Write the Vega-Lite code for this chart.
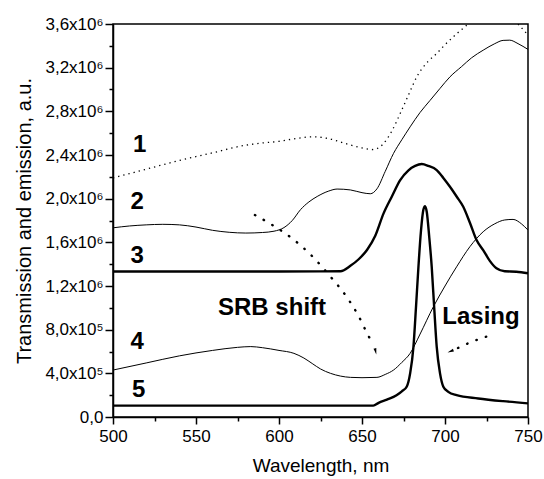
{
  "$schema": "https://vega.github.io/schema/vega-lite/v6.json",
  "width": 415,
  "height": 393,
  "autosize": "none",
  "padding": {"left": 113, "top": 24, "right": 16, "bottom": 62},
  "background": "white",
  "config": {
    "view": {"stroke": "black", "strokeWidth": 1.5},
    "axis": {
      "grid": false,
      "domainColor": "black",
      "domainWidth": 1.5,
      "tickColor": "black",
      "tickWidth": 1.5,
      "labelColor": "black",
      "titleColor": "black",
      "labelFont": "Liberation Sans",
      "titleFont": "Liberation Sans",
      "titleFontWeight": "normal",
      "labelFlush": false,
      "labelOverlap": false
    }
  },
  "datasets": {
    "curves": [
      {"c": "1", "x": 500, "y": 2190000}, {"c": "1", "x": 520, "y": 2270000}, {"c": "1", "x": 540, "y": 2350000},
      {"c": "1", "x": 560, "y": 2420000}, {"c": "1", "x": 580, "y": 2490000}, {"c": "1", "x": 590, "y": 2510000},
      {"c": "1", "x": 600, "y": 2525000}, {"c": "1", "x": 610, "y": 2550000}, {"c": "1", "x": 620, "y": 2567000},
      {"c": "1", "x": 630, "y": 2550000}, {"c": "1", "x": 640, "y": 2505000}, {"c": "1", "x": 650, "y": 2465000},
      {"c": "1", "x": 657, "y": 2450000}, {"c": "1", "x": 662, "y": 2490000}, {"c": "1", "x": 668, "y": 2620000},
      {"c": "1", "x": 673, "y": 2780000}, {"c": "1", "x": 678, "y": 2950000}, {"c": "1", "x": 683, "y": 3116000},
      {"c": "1", "x": 690, "y": 3260000}, {"c": "1", "x": 695, "y": 3330000}, {"c": "1", "x": 700, "y": 3410000},
      {"c": "1", "x": 707, "y": 3510000}, {"c": "1", "x": 714, "y": 3600000}, {"c": "1", "x": 722, "y": 3700000},
      {"c": "1", "x": 730, "y": 3740000}, {"c": "1", "x": 738, "y": 3700000}, {"c": "1", "x": 744, "y": 3600000},
      {"c": "1", "x": 750, "y": 3500000},

      {"c": "2", "x": 500, "y": 1733000}, {"c": "2", "x": 510, "y": 1750000}, {"c": "2", "x": 520, "y": 1760000},
      {"c": "2", "x": 530, "y": 1765000}, {"c": "2", "x": 540, "y": 1760000}, {"c": "2", "x": 550, "y": 1740000},
      {"c": "2", "x": 560, "y": 1710000}, {"c": "2", "x": 570, "y": 1692000}, {"c": "2", "x": 580, "y": 1685000},
      {"c": "2", "x": 590, "y": 1690000}, {"c": "2", "x": 597, "y": 1702000}, {"c": "2", "x": 603, "y": 1735000},
      {"c": "2", "x": 608, "y": 1800000}, {"c": "2", "x": 613, "y": 1900000}, {"c": "2", "x": 618, "y": 1970000},
      {"c": "2", "x": 623, "y": 2020000}, {"c": "2", "x": 630, "y": 2070000}, {"c": "2", "x": 635, "y": 2088000},
      {"c": "2", "x": 643, "y": 2080000}, {"c": "2", "x": 650, "y": 2055000}, {"c": "2", "x": 655, "y": 2045000},
      {"c": "2", "x": 659, "y": 2090000}, {"c": "2", "x": 664, "y": 2250000}, {"c": "2", "x": 669, "y": 2415000},
      {"c": "2", "x": 674, "y": 2540000}, {"c": "2", "x": 679, "y": 2658000}, {"c": "2", "x": 685, "y": 2790000},
      {"c": "2", "x": 691, "y": 2900000}, {"c": "2", "x": 697, "y": 3010000}, {"c": "2", "x": 703, "y": 3116000},
      {"c": "2", "x": 710, "y": 3210000}, {"c": "2", "x": 716, "y": 3290000}, {"c": "2", "x": 723, "y": 3360000},
      {"c": "2", "x": 730, "y": 3420000}, {"c": "2", "x": 735, "y": 3450000}, {"c": "2", "x": 739, "y": 3452000},
      {"c": "2", "x": 744, "y": 3420000}, {"c": "2", "x": 750, "y": 3367000},

      {"c": "3", "x": 500, "y": 1333000}, {"c": "3", "x": 600, "y": 1333000}, {"c": "3", "x": 637, "y": 1335000},
      {"c": "3", "x": 643, "y": 1385000}, {"c": "3", "x": 648, "y": 1445000}, {"c": "3", "x": 653, "y": 1530000},
      {"c": "3", "x": 658, "y": 1660000}, {"c": "3", "x": 663, "y": 1865000}, {"c": "3", "x": 668, "y": 2020000},
      {"c": "3", "x": 673, "y": 2170000}, {"c": "3", "x": 678, "y": 2260000}, {"c": "3", "x": 682, "y": 2300000},
      {"c": "3", "x": 686, "y": 2317000}, {"c": "3", "x": 690, "y": 2300000}, {"c": "3", "x": 695, "y": 2262000},
      {"c": "3", "x": 699, "y": 2190000}, {"c": "3", "x": 703, "y": 2109000}, {"c": "3", "x": 707, "y": 2020000},
      {"c": "3", "x": 711, "y": 1926000}, {"c": "3", "x": 715, "y": 1780000}, {"c": "3", "x": 719, "y": 1621000},
      {"c": "3", "x": 723, "y": 1529000}, {"c": "3", "x": 727, "y": 1430000}, {"c": "3", "x": 731, "y": 1362000},
      {"c": "3", "x": 736, "y": 1335000}, {"c": "3", "x": 743, "y": 1331000}, {"c": "3", "x": 750, "y": 1316000},

      {"c": "4", "x": 500, "y": 430000}, {"c": "4", "x": 520, "y": 495000}, {"c": "4", "x": 540, "y": 560000},
      {"c": "4", "x": 560, "y": 610000}, {"c": "4", "x": 575, "y": 638000}, {"c": "4", "x": 583, "y": 645000},
      {"c": "4", "x": 590, "y": 635000}, {"c": "4", "x": 600, "y": 610000}, {"c": "4", "x": 609, "y": 583000},
      {"c": "4", "x": 615, "y": 540000}, {"c": "4", "x": 620, "y": 490000}, {"c": "4", "x": 625, "y": 440000},
      {"c": "4", "x": 631, "y": 400000}, {"c": "4", "x": 637, "y": 375000}, {"c": "4", "x": 643, "y": 363000},
      {"c": "4", "x": 650, "y": 360000}, {"c": "4", "x": 659, "y": 363000}, {"c": "4", "x": 664, "y": 390000},
      {"c": "4", "x": 669, "y": 430000}, {"c": "4", "x": 674, "y": 500000}, {"c": "4", "x": 679, "y": 583000},
      {"c": "4", "x": 685, "y": 760000}, {"c": "4", "x": 693, "y": 1010000}, {"c": "4", "x": 700, "y": 1200000},
      {"c": "4", "x": 707, "y": 1376000}, {"c": "4", "x": 715, "y": 1560000}, {"c": "4", "x": 723, "y": 1697000},
      {"c": "4", "x": 730, "y": 1770000}, {"c": "4", "x": 736, "y": 1805000}, {"c": "4", "x": 741, "y": 1810000},
      {"c": "4", "x": 746, "y": 1770000}, {"c": "4", "x": 750, "y": 1712000},

      {"c": "5", "x": 500, "y": 104000}, {"c": "5", "x": 600, "y": 104000}, {"c": "5", "x": 656.8, "y": 104000},
      {"c": "5", "x": 660, "y": 130000}, {"c": "5", "x": 665, "y": 160000}, {"c": "5", "x": 670.8, "y": 200000},
      {"c": "5", "x": 674, "y": 235000}, {"c": "5", "x": 677, "y": 280000}, {"c": "5", "x": 679, "y": 400000},
      {"c": "5", "x": 681, "y": 644000}, {"c": "5", "x": 682.5, "y": 1000000}, {"c": "5", "x": 684, "y": 1376000},
      {"c": "5", "x": 685.5, "y": 1700000}, {"c": "5", "x": 687, "y": 1900000}, {"c": "5", "x": 688, "y": 1932000},
      {"c": "5", "x": 689, "y": 1880000}, {"c": "5", "x": 690.5, "y": 1650000}, {"c": "5", "x": 692, "y": 1376000},
      {"c": "5", "x": 693.5, "y": 1000000}, {"c": "5", "x": 695, "y": 644000}, {"c": "5", "x": 697, "y": 400000},
      {"c": "5", "x": 699, "y": 278000}, {"c": "5", "x": 702, "y": 230000}, {"c": "5", "x": 707, "y": 200000},
      {"c": "5", "x": 720, "y": 170000}, {"c": "5", "x": 735, "y": 145000}, {"c": "5", "x": 750, "y": 125000}
    ],
    "arrows": [
      {"a": "srb", "x": 585.5, "y": 1850000}, {"a": "srb", "x": 597.0, "y": 1749000}, {"a": "srb", "x": 608.4, "y": 1630000},
      {"a": "srb", "x": 620.5, "y": 1465000}, {"a": "srb", "x": 630.7, "y": 1291000}, {"a": "srb", "x": 640.4, "y": 1108000},
      {"a": "srb", "x": 647.6, "y": 934000}, {"a": "srb", "x": 653.6, "y": 751000}, {"a": "srb", "x": 656.6, "y": 668000},
      {"a": "las", "x": 707.8, "y": 632000}, {"a": "las", "x": 716.0, "y": 688000}, {"a": "las", "x": 726.1, "y": 742000}
    ],
    "heads": [
      {"a": "srb", "x": 658.2, "y": 600000},
      {"a": "las", "x": 703.3, "y": 602000}
    ],
    "labels": [
      {"t": "1", "x": 516, "y": 2491000},
      {"t": "2", "x": 514.5, "y": 1972000},
      {"t": "3", "x": 514.5, "y": 1474000},
      {"t": "4", "x": 514.5, "y": 690000},
      {"t": "5", "x": 515.5, "y": 247000},
      {"t": "SRB shift", "x": 595.8, "y": 998000},
      {"t": "Lasing", "x": 721.7, "y": 916000}
    ]
  },
  "encoding": {
    "x": {
      "field": "x", "type": "quantitative",
      "scale": {"domain": [500, 750], "nice": false, "zero": false},
      "axis": {
        "values": [500, 525, 550, 575, 600, 625, 650, 675, 700, 725, 750],
        "labelExpr": "datum.value % 50 == 0 ? datum.label : ''",
        "tickSize": {"condition": {"test": "datum.value % 50 == 0", "value": 7}, "value": 4},
        "labelFontSize": 17,
        "labelPadding": 4,
        "title": "Wavelength, nm",
        "titleFontSize": 19,
        "titlePadding": 12
      }
    },
    "y": {
      "field": "y", "type": "quantitative",
      "scale": {"domain": [0, 3600000], "nice": false},
      "axis": {
        "values": [0, 200000, 400000, 600000, 800000, 1000000, 1200000, 1400000, 1600000, 1800000, 2000000, 2200000, 2400000, 2600000, 2800000, 3000000, 3200000, 3400000, 3600000],
        "labelExpr": "datum.value == 0 ? '0,0' : (datum.value % 400000 != 0 ? '' : (datum.value < 1000000 ? replace(format(datum.value/100000, '.1f'), '.', ',') + 'x10⁵' : replace(format(datum.value/1000000, '.1f'), '.', ',') + 'x10⁶'))",
        "tickSize": {"condition": {"test": "datum.value % 400000 == 0", "value": 8}, "value": 4},
        "labelFontSize": 17,
        "labelPadding": 2,
        "title": "Transmission and emission, a.u.",
        "titleFontSize": 20,
        "titlePadding": 10
      }
    }
  },
  "layer": [
    {
      "data": {"name": "curves"},
      "transform": [{"filter": "datum.c == '1'"}],
      "mark": {"type": "line", "color": "black", "strokeWidth": 1.3, "strokeDash": [1.3, 4], "interpolate": "monotone", "clip": true}
    },
    {
      "data": {"name": "curves"},
      "transform": [{"filter": "datum.c == '2' || datum.c == '4'"}],
      "mark": {"type": "line", "color": "black", "strokeWidth": 1, "interpolate": "monotone", "clip": true},
      "encoding": {"detail": {"field": "c"}}
    },
    {
      "data": {"name": "curves"},
      "transform": [{"filter": "datum.c == '3' || datum.c == '5'"}],
      "mark": {"type": "line", "color": "black", "strokeWidth": 2.4, "interpolate": "monotone", "clip": true},
      "encoding": {"detail": {"field": "c"}}
    },
    {
      "data": {"name": "arrows"},
      "mark": {"type": "line", "color": "black", "strokeWidth": 2.4, "strokeDash": [0.5, 9.5], "strokeCap": "round", "interpolate": "monotone"},
      "encoding": {"detail": {"field": "a"}}
    },
    {
      "data": {"name": "heads"},
      "transform": [{"filter": "datum.a == 'srb'"}],
      "mark": {"type": "point", "shape": "M-0.45,-1L0.45,-1L0,1Z", "filled": true, "color": "black", "opacity": 1, "size": 40, "angle": 347}
    },
    {
      "data": {"name": "heads"},
      "transform": [{"filter": "datum.a == 'las'"}],
      "mark": {"type": "point", "shape": "M-0.45,-1L0.45,-1L0,1Z", "filled": true, "color": "black", "opacity": 1, "size": 40, "angle": 68}
    },
    {
      "data": {"name": "labels"},
      "mark": {"type": "text", "font": "Liberation Sans", "fontWeight": "bold", "fontSize": 24, "color": "black", "align": "center", "baseline": "middle"},
      "encoding": {"text": {"field": "t"}}
    }
  ]
}
